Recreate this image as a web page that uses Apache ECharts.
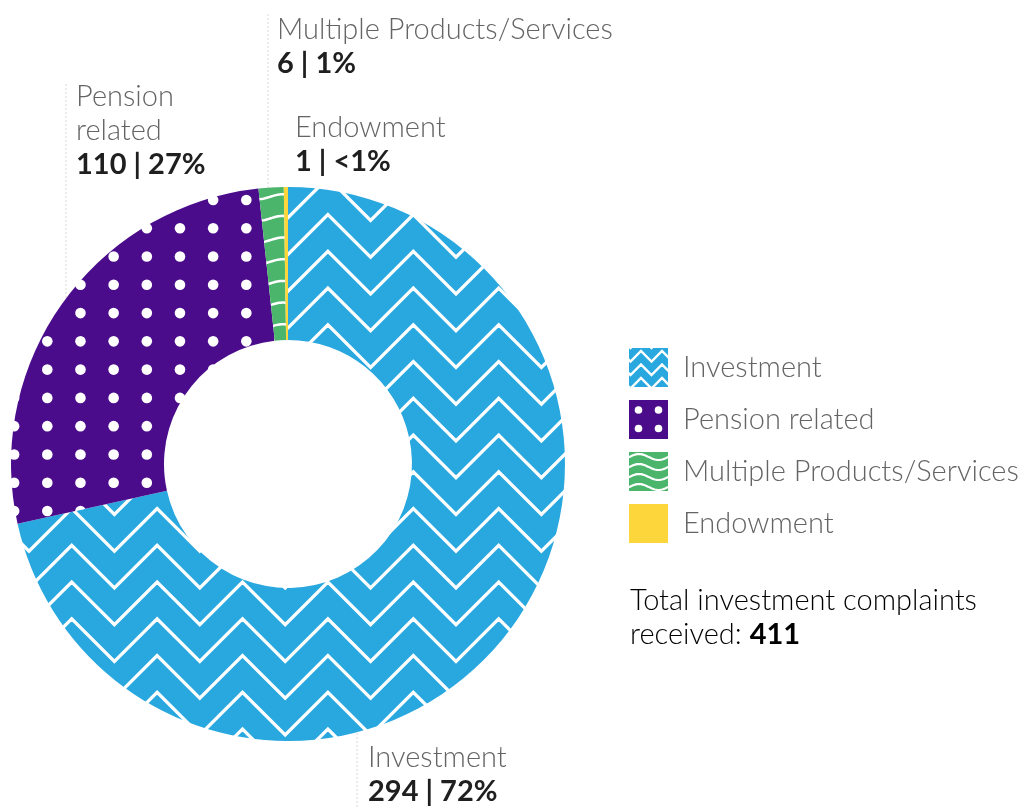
<!DOCTYPE html>
<html>
<head>
<meta charset="utf-8">
<script src="https://cdn.jsdelivr.net/npm/echarts@6/dist/echarts.min.js"></script>
<style>
  html, body { margin: 0; padding: 0; background: #ffffff; }
  #chart { width: 1023px; height: 807px; }
</style>
</head>
<body>
<div id="chart"></div>
<script>
// Investment complaints by product type
const categories = ['Investment', 'Pension related', 'Multiple Products/Services', 'Endowment'];
const labelNames = ['Investment', 'Pension\nrelated', 'Multiple Products/Services', 'Endowment'];
const complaintCounts = [294, 110, 6, 1];
const baseColors = ['#29a8e0', '#4b0c8c', '#4bb56c', '#fdd63c'];
const totalCaption = ['Total investment complaints', 'received: '];

const W = 1023, H = 807;
const CX = 288, CY = 464, R_IN = 124, R_OUT = 277;
const FONT_LIGHT = '"Lato Light", Lato, "Open Sans", sans-serif';
const FONT_BOLD = 'Lato, "Open Sans", sans-serif';
const FS = 29;

function makeCanvas(w, h, bg) {
  const c = document.createElement('canvas');
  c.width = w; c.height = h;
  const ctx = c.getContext('2d');
  ctx.fillStyle = bg;
  ctx.fillRect(0, 0, w, h);
  return [c, ctx];
}

// nested white chevrons: peaks at x0 + 2*half*k, rows gap apart
function chevrons(w, h, bg, x0, y0, half, rise, gap, lw) {
  const [c, ctx] = makeCanvas(w, h, bg);
  ctx.strokeStyle = '#ffffff';
  ctx.lineWidth = lw;
  ctx.lineJoin = 'miter';
  const xs = x0 - Math.ceil((x0 + 2 * half) / (2 * half)) * 2 * half;
  const ys = y0 - Math.ceil((y0 + rise + gap) / gap) * gap;
  for (let y = ys; y < h + gap; y += gap) {
    ctx.beginPath();
    let k = 0;
    for (let x = xs; x <= w + 2 * half; x += half, k++) {
      const yy = (k % 2 === 0) ? y : y + rise;
      if (k === 0) ctx.moveTo(x, yy); else ctx.lineTo(x, yy);
    }
    ctx.stroke();
  }
  return c;
}

// square grid of white dots
function dots(w, h, bg, x0, y0, dx, dy, r) {
  const [c, ctx] = makeCanvas(w, h, bg);
  ctx.fillStyle = '#ffffff';
  const xs = x0 - Math.ceil(x0 / dx) * dx;
  const ys = y0 - Math.ceil(y0 / dy) * dy;
  for (let y = ys; y < h + dy; y += dy) {
    for (let x = xs; x < w + dx; x += dx) {
      ctx.beginPath();
      ctx.arc(x, y, r, 0, Math.PI * 2);
      ctx.fill();
    }
  }
  return c;
}

// stacked white wavy lines
function waves(w, h, bg, xPeak, y0, gap, len, amp, lw) {
  const [c, ctx] = makeCanvas(w, h, bg);
  ctx.strokeStyle = '#ffffff';
  ctx.lineWidth = lw;
  const ys = y0 - Math.ceil(y0 / gap) * gap;
  for (let y = ys; y < h + gap; y += gap) {
    ctx.beginPath();
    for (let x = -2; x <= w + 2; x += 1) {
      const yy = y - amp * Math.cos(2 * Math.PI * (x - xPeak) / len);
      if (x === -2) ctx.moveTo(x, yy); else ctx.lineTo(x, yy);
    }
    ctx.stroke();
  }
  return c;
}

const ringFills = [
  { image: chevrons(W, H, baseColors[0], 71.7, 214.5, 42.7, 42.7, 36.75, 3.2), repeat: 'no-repeat' },
  { image: dots(W, H, baseColors[1], 47.3, 200, 33.17, 28.27, 5.3), repeat: 'no-repeat' },
  { image: waves(W, H, baseColors[2], 283, 196.7, 21.67, 50, 2.5, 2.5), repeat: 'no-repeat' },
  baseColors[3]
];

const ICON = 39;
function solid(w, h, bg) { return makeCanvas(w, h, bg)[0]; }
const legendIcons = [
  chevrons(ICON, ICON, baseColors[0], 12, 3, 10.5, 10.5, 13.5, 2.4),
  dots(ICON, ICON, baseColors[1], 9.5, 10, 20, 18.5, 3.8),
  waves(ICON, ICON, baseColors[2], 10, 5, 10, 39, 3, 2.2),
  solid(ICON, ICON, baseColors[3])
].map(c => 'image://' + c.toDataURL());

const total = complaintCounts.reduce((a, b) => a + b, 0);

function pctText(v) {
  const p = v / total * 100;
  return p < 1 ? '<1%' : Math.round(p) + '%';
}

// label block anchors (top-left) and leader-line x positions
const labelAnchors = [[368, 741], [76, 80], [277, 13], [295, 111]];
const leaderLines = [
  { x: 357, side: 'bottom', end: 807 },
  { x: 66, side: 'top', end: 84 },
  { x: 268, side: 'top', end: 14 }
];

function ringY(x, side) {
  const d = Math.sqrt(R_OUT * R_OUT - (x - CX) * (x - CX));
  return side === 'top' ? CY - d : CY + d;
}

const textRich = {
  n: { fontFamily: FONT_LIGHT, fontSize: FS, fontWeight: 300, color: '#646464', lineHeight: 34 },
  v: { fontFamily: FONT_BOLD, fontSize: FS, fontWeight: 'bold', color: '#1f1f1f', lineHeight: 34 }
};

const chart = echarts.init(document.getElementById('chart'), null, { renderer: 'canvas' });

chart.setOption({
  animation: false,
  backgroundColor: '#ffffff',
  legend: {
    orient: 'vertical',
    left: 629,
    top: 348,
    padding: 0,
    itemWidth: ICON,
    itemHeight: ICON,
    itemGap: 13,
    selectedMode: false,
    textStyle: {
      fontFamily: FONT_LIGHT, fontSize: FS, fontWeight: 300, color: '#646464',
      padding: [0, 0, 0, 10]
    },
    data: categories.map((name, i) => ({ name, icon: legendIcons[i] }))
  },
  graphic: [
    ...leaderLines.map(l => ({
      type: 'line',
      silent: true,
      shape: {
        x1: l.x, y1: l.end,
        x2: l.x, y2: ringY(l.x, l.side)
      },
      style: { stroke: '#d8d8d8', lineWidth: 1, lineDash: [2, 2] }
    })),
    {
      type: 'text',
      left: 630,
      top: 586,
      silent: true,
      style: {
        text: '{n|' + totalCaption[0] + '}\n{n|' + totalCaption[1] + '}{v|' + total + '}',
        rich: textRich
      }
    }
  ],
  series: [{
    type: 'pie',
    center: [CX, CY],
    radius: [R_IN, R_OUT],
    startAngle: 90,
    clockwise: true,
    avoidLabelOverlap: false,
    silent: true,
    itemStyle: { borderWidth: 0 },
    data: categories.map((name, i) => ({
      name,
      value: complaintCounts[i],
      itemStyle: { color: ringFills[i] }
    })),
    label: {
      show: true,
      position: 'outside',
      formatter: p => labelNames[p.dataIndex].split('\n').map(s => '{n|' + s + '}').join('\n') +
        '\n{v|' + p.value + ' | ' + pctText(p.value) + '}',
      rich: textRich
    },
    labelLine: { show: false },
    labelLayout: p => ({
      x: labelAnchors[p.dataIndex][0],
      y: labelAnchors[p.dataIndex][1],
      align: 'left',
      verticalAlign: 'top'
    })
  }]
});
</script>
</body>
</html>
